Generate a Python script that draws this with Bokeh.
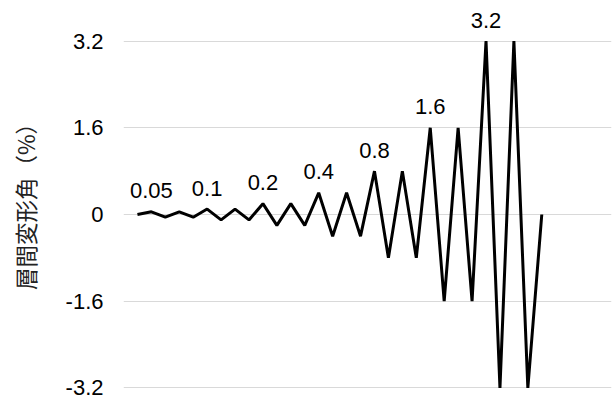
from bokeh.plotting import figure
from bokeh.models import Range1d, FixedTicker
from bokeh.core.properties import value
from bokeh.embed import file_html
from bokeh.resources import INLINE

# Loading protocol: storey drift angle (%) per step
drift = [0, 0.05, -0.05, 0.05, -0.05,
         0.1, -0.1, 0.1, -0.1,
         0.2, -0.2, 0.2, -0.2,
         0.4, -0.4, 0.4, -0.4,
         0.8, -0.8, 0.8, -0.8,
         1.6, -1.6, 1.6, -1.6,
         3.2, -3.2, 3.2, -3.2, 0]
steps = list(range(len(drift)))
amplitudes = [0.05, 0.1, 0.2, 0.4, 0.8, 1.6, 3.2]
amp_labels = ["0.05", "0.1", "0.2", "0.4", "0.8", "1.6", "3.2"]
y_ticks = [-3.2, -1.6, 0, 1.6, 3.2]
y_tick_labels = ["-3.2", "-1.6", "0", "1.6", "3.2"]
y_title = "層間変形角（%）"

p = figure(width=614, height=401,
           x_range=Range1d(-1.0, 34.0), y_range=Range1d(-3.449, 3.947),
           output_backend="svg", toolbar_location=None,
           min_border_left=123, min_border_right=3,
           min_border_top=0, min_border_bottom=0)
p.outline_line_color = None
p.xaxis.visible = False
p.xgrid.visible = False

p.yaxis.ticker = FixedTicker(ticks=y_ticks)
p.yaxis.major_label_overrides = {t: l for t, l in zip(y_ticks, y_tick_labels)}
p.yaxis.axis_line_color = None
p.yaxis.major_tick_line_color = None
p.yaxis.minor_tick_line_color = None
p.yaxis.major_tick_out = 0
p.yaxis.major_tick_in = 0
p.yaxis.major_label_standoff = 20
p.yaxis.major_label_text_font = "Liberation Sans"
p.yaxis.major_label_text_font_size = "22px"
p.yaxis.major_label_text_color = "black"
p.yaxis.axis_label = y_title
p.yaxis.axis_label_text_font = "Noto Sans CJK JP"
p.yaxis.axis_label_text_font_size = "22.5px"
p.yaxis.axis_label_text_font_style = "normal"
p.yaxis.axis_label_text_color = "#222222"
p.yaxis.axis_label_standoff = 22

p.ygrid.grid_line_color = "#d9d9d9"
p.ygrid.grid_line_width = 1

p.line(steps, drift, line_color="black", line_width=3, line_join="bevel")

label_x = [drift.index(a) for a in amplitudes]
p.text(x=label_x, y=amplitudes, text=amp_labels,
       text_align="center", text_baseline="alphabetic", y_offset=-21,
       text_font=value("Liberation Sans"), text_font_size=value("22px"),
       text_color="black")

open("out.html", "w").write(file_html(p, INLINE))
